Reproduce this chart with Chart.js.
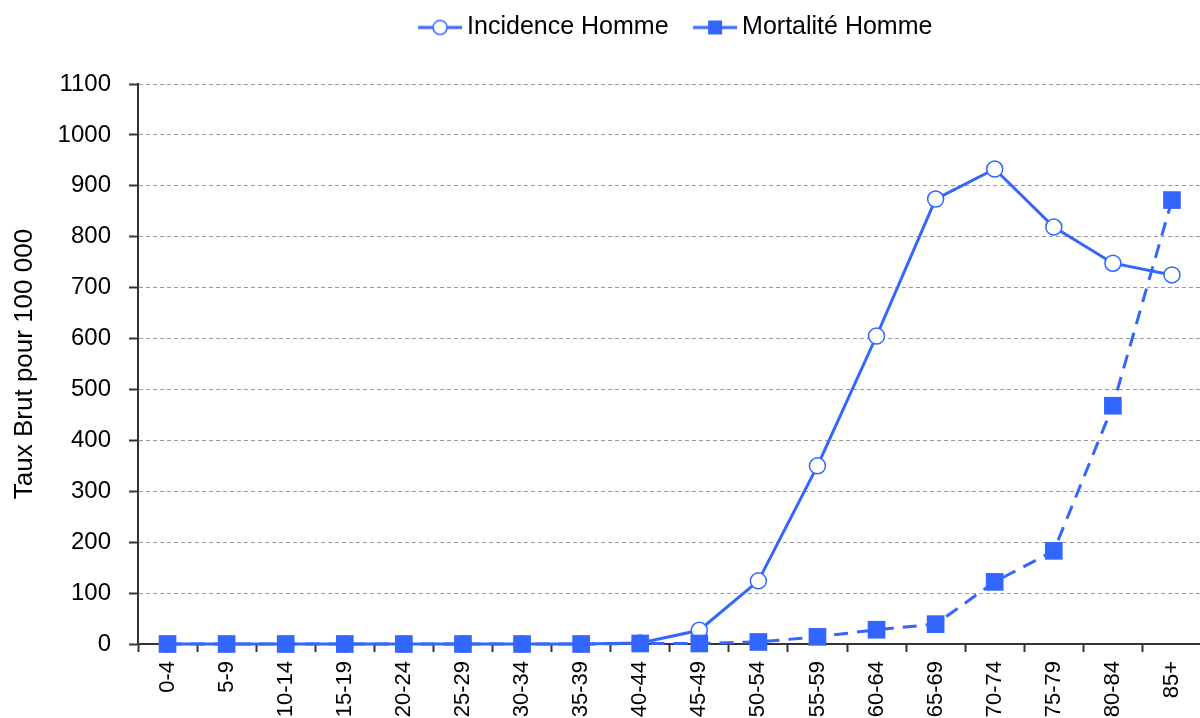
<!DOCTYPE html>
<html>
<head>
<meta charset="utf-8">
<script src="https://cdn.jsdelivr.net/npm/chart.js@4"></script>
<style>
  html, body { margin: 0; padding: 0; overflow: hidden; background: #fff; }
  #wrap { width: 1214px; height: 740px; position: relative; }
</style>
</head>
<body>
<div id="wrap"><canvas id="chart"></canvas></div>
<script>
'use strict';

const age_groups = ['0-4', '5-9', '10-14', '15-19', '20-24', '25-29', '30-34', '35-39',
    '40-44', '45-49', '50-54', '55-59', '60-64', '65-69', '70-74', '75-79', '80-84', '85+'];
const incidence_homme = [0, 0, 0, 0, 0, 0, 0, 0, 2, 27, 124, 350, 605, 874, 933, 819, 748, 725];
const mortalite_homme = [0, 0, 0, 0, 0, 0, 0, 0, 1, 1, 4, 14, 28, 39, 122, 183, 468, 872];
const y_ticks = [0, 100, 200, 300, 400, 500, 600, 700, 800, 900, 1000, 1100];

const BLUE = '#3366ff';
const FONT = 'Liberation Sans';

// legend symbol: a short line with the marker on it
function legend_icon(kind) {
    const c = document.createElement('canvas');
    c.width = 58;
    c.height = 20;
    const ctx = c.getContext('2d');
    ctx.strokeStyle = BLUE;
    ctx.lineWidth = 3;
    ctx.beginPath();
    ctx.moveTo(13, 10);
    ctx.lineTo(57, 10);
    ctx.stroke();
    if (kind == 'circle') {
        ctx.fillStyle = '#fff';
        ctx.lineWidth = 1.5;
        ctx.beginPath();
        ctx.arc(35, 10, 7, 0, Math.PI * 2);
        ctx.fill();
        ctx.stroke();
    } else {
        ctx.fillStyle = BLUE;
        ctx.fillRect(28, 3, 14, 14);
    }
    return c;
}

const icons = [legend_icon('circle'), legend_icon('rect')];

// taller legend block, and legend moved a bit to the right
const legend_layout = {
    id: 'legend_layout',
    beforeUpdate(chart) {
        const legend = chart.legend;
        if (legend && !legend._patched) {
            const fit = legend.fit;
            legend.fit = function () {
                fit.call(this);
                this.height = 89;
            };
            legend._patched = true;
        }
    },
    afterLayout(chart) {
        chart.legend.left += 66;
        chart.legend.right += 66;
    }
};

new Chart(document.getElementById('chart').getContext('2d'), {
    type: 'line',
    plugins: [legend_layout],
    data: {
        labels: age_groups,
        datasets: [{
            label: 'Incidence Homme',
            data: incidence_homme,
            borderColor: BLUE,
            borderWidth: 3,
            pointStyle: 'circle',
            pointRadius: 8,
            pointBackgroundColor: '#fff',
            pointBorderColor: BLUE,
            pointBorderWidth: 1.5,
            tension: 0,
            clip: false,
            order: 1,
        }, {
            label: 'Mortalité Homme',
            data: mortalite_homme,
            borderColor: BLUE,
            borderWidth: 3,
            borderDash: [14, 9],
            pointStyle: 'rect',
            pointRadius: 12.5,
            pointBackgroundColor: BLUE,
            pointBorderColor: BLUE,
            pointBorderWidth: 0,
            tension: 0,
            clip: false,
            order: 0,
        }]
    },
    options: {
        responsive: true,
        maintainAspectRatio: false,
        animation: false,
        layout: { padding: { top: -5, right: 0, left: 0, bottom: 0 } },
        plugins: {
            tooltip: { enabled: false },
            legend: {
                position: 'top',
                labels: {
                    usePointStyle: true,
                    pointStyleWidth: 41,
                    boxHeight: 20,
                    color: '#000',
                    padding: 20,
                    font: { family: FONT, size: 25 },
                    generateLabels: (chart) => chart.data.datasets.map((ds, i) => ({
                        text: ds.label,
                        pointStyle: icons[i],
                        fillStyle: BLUE,
                        strokeStyle: BLUE,
                        lineWidth: 0,
                        datasetIndex: i,
                        fontColor: '#000',
                    })),
                }
            }
        },
        scales: {
            x: {
                offset: true,
                grid: {
                    offset: true,
                    drawOnChartArea: false,
                    drawTicks: true,
                    tickLength: 8,
                    tickColor: '#333',
                    tickWidth: 2,
                },
                border: { color: '#333', width: 2 },
                ticks: {
                    color: '#000',
                    minRotation: 90,
                    maxRotation: 90,
                    autoSkip: false,
                    padding: 9,
                    font: { family: FONT, size: 22 },
                },
                afterFit: (scale) => { scale.height = 96; },
            },
            y: {
                min: 0,
                max: 1100,
                afterBuildTicks: (scale) => {
                    scale.ticks = y_ticks.map((v) => ({ value: v }));
                },
                grid: {
                    color: '#999999',
                    lineWidth: 1,
                    drawTicks: true,
                    tickLength: 9,
                    tickColor: '#333',
                    tickWidth: 2,
                    tickBorderDash: [],
                },
                border: { color: '#333', width: 2, dash: [4, 3] },
                ticks: {
                    color: '#000',
                    padding: 18,
                    font: { family: FONT, size: 24 },
                    callback: (v) => String(v),
                },
                title: {
                    display: true,
                    text: 'Taux Brut pour 100 000',
                    color: '#000',
                    font: { family: FONT, size: 26 },
                    padding: { top: 9, bottom: 0 },
                },
                afterFit: (scale) => { scale.width = 138; },
            }
        }
    }
});
</script>
</body>
</html>
